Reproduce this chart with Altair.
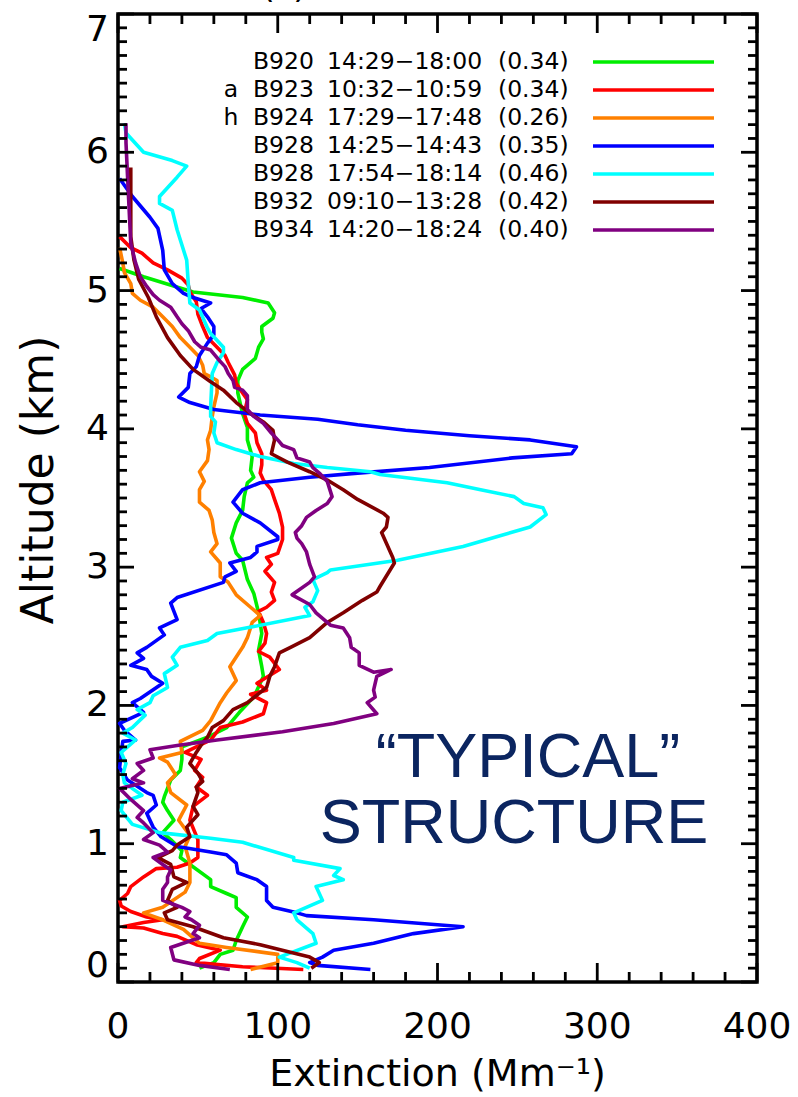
import altair as alt
import pandas as pd

# Vertical extinction profiles: (altitude km, extinction Mm^-1), top to bottom
B920 = [(5.16, 1), (5.10, 16), (4.99, 47), (4.95, 78), (4.91, 94), (4.84, 98), (4.80, 97), (4.74, 90),
        (4.70, 90), (4.65, 91), (4.59, 88), (4.51, 86), (4.43, 78), (4.35, 75), (4.26, 75), (4.11, 78),
        (4.01, 81), (3.92, 81), (3.80, 84), (3.70, 83), (3.65, 85), (3.61, 81), (3.51, 79), (3.41, 78),
        (3.32, 74), (3.21, 71), (3.10, 74), (3.05, 78), (2.91, 81), (2.81, 85), (2.67, 88), (2.52, 90),
        (2.40, 88), (2.28, 90), (2.21, 91), (2.16, 89), (2.06, 85), (1.95, 76), (1.84, 68), (1.77, 56),
        (1.70, 40), (1.61, 40), (1.53, 39), (1.46, 33), (1.40, 31), (1.34, 29), (1.30, 28), (1.24, 31),
        (1.17, 35), (1.08, 28), (1.03, 33), (0.95, 40), (0.90, 39), (0.85, 45), (0.74, 58), (0.69, 58),
        (0.64, 68), (0.61, 74), (0.54, 74), (0.47, 81), (0.40, 78), (0.30, 74), (0.23, 72), (0.20, 64),
        (0.14, 60), (0.10, 51)]

B923 = [(5.39, 1), (5.31, 8), (5.27, 15), (5.20, 22), (5.15, 31), (5.09, 40), (5.04, 44), (4.99, 45),
        (4.92, 49), (4.83, 50), (4.74, 53), (4.66, 56), (4.59, 62), (4.53, 67), (4.48, 69), (4.39, 73),
        (4.33, 74), (4.26, 78), (4.21, 81), (4.11, 79), (4.04, 81), (3.97, 86), (3.90, 87), (3.82, 90),
        (3.74, 90), (3.68, 89), (3.63, 91), (3.56, 96), (3.49, 98), (3.39, 101), (3.29, 103), (3.20, 103),
        (3.10, 100), (3.07, 93), (3.02, 96), (2.97, 92), (2.89, 98), (2.82, 96), (2.76, 98), (2.71, 93),
        (2.68, 88), (2.60, 91), (2.52, 93), (2.45, 92), (2.39, 88), (2.35, 95), (2.26, 101), (2.16, 87),
        (2.11, 93), (2.08, 83), (2.02, 93), (1.94, 91), (1.88, 78), (1.84, 64), (1.75, 58), (1.70, 49),
        (1.66, 42), (1.61, 52), (1.53, 48), (1.48, 53), (1.41, 49), (1.35, 56), (1.27, 47), (1.17, 45),
        (1.03, 50), (0.90, 50), (0.86, 45), (0.83, 37), (0.82, 24), (0.76, 16), (0.69, 8), (0.64, 6),
        (0.59, 1), (0.55, 2), (0.51, 8), (0.47, 18), (0.45, 28), (0.43, 16), (0.40, 3), (0.39, 16),
        (0.35, 28), (0.33, 37), (0.27, 49), (0.23, 64), (0.17, 51), (0.14, 49), (0.11, 78), (0.09, 116)]

B924 = [(5.31, 1), (5.20, 3), (5.13, 4), (5.05, 8), (4.98, 9), (4.93, 14), (4.88, 22), (4.81, 28),
        (4.74, 34), (4.66, 39), (4.59, 45), (4.53, 50), (4.46, 53), (4.40, 54), (4.37, 59), (4.35, 62),
        (4.26, 62), (4.16, 60), (4.09, 59), (3.99, 58), (3.92, 56), (3.85, 57), (3.77, 56), (3.69, 51),
        (3.62, 54), (3.56, 51), (3.47, 51), (3.41, 57), (3.34, 59), (3.25, 60), (3.17, 62), (3.11, 58),
        (3.03, 64), (2.93, 64), (2.89, 69), (2.80, 74), (2.71, 83), (2.65, 89), (2.60, 84), (2.49, 81),
        (2.42, 78), (2.35, 74), (2.28, 70), (2.18, 74), (2.09, 68), (2.02, 64), (1.89, 58), (1.82, 53),
        (1.74, 39), (1.66, 40), (1.62, 26), (1.59, 31), (1.50, 36), (1.44, 31), (1.37, 33), (1.28, 43),
        (1.17, 38), (1.06, 45), (0.98, 42), (0.86, 45), (0.72, 45), (0.65, 42), (0.54, 28), (0.50, 16),
        (0.45, 28), (0.38, 41), (0.28, 51), (0.25, 68), (0.20, 100), (0.14, 100), (0.09, 83)]

B928_EARLY = [(5.81, 1), (5.68, 9), (5.53, 20), (5.45, 25), (5.29, 28), (5.15, 29), (5.05, 34), (4.98, 41),
              (4.95, 47), (4.91, 58), (4.87, 52), (4.81, 56), (4.74, 60), (4.68, 60), (4.62, 56), (4.53, 51),
              (4.45, 49), (4.40, 45), (4.30, 44), (4.23, 38), (4.19, 45), (4.14, 60), (4.10, 89), (4.07, 125),
              (4.03, 150), (3.99, 180), (3.95, 220), (3.92, 258), (3.87, 287), (3.82, 284), (3.79, 247),
              (3.72, 195), (3.68, 150), (3.65, 120), (3.61, 89), (3.56, 78), (3.47, 72), (3.39, 78),
              (3.32, 89), (3.22, 100), (3.20, 100), (3.15, 87), (3.11, 87), (3.07, 83), (3.03, 70),
              (2.97, 74), (2.93, 67), (2.89, 66), (2.78, 37), (2.74, 33), (2.62, 37), (2.56, 26), (2.51, 29),
              (2.42, 18), (2.38, 12), (2.34, 16), (2.29, 8), (2.26, 18), (2.21, 21), (2.16, 28), (2.05, 14),
              (2.02, 9), (1.95, 16), (1.87, 1), (1.82, 4), (1.75, 11), (1.74, 3), (1.65, 2), (1.55, 1),
              (1.46, 6), (1.37, 18), (1.35, 22), (1.28, 24), (1.22, 18), (1.12, 22), (1.05, 27), (0.98, 37),
              (0.94, 58), (0.92, 68), (0.86, 74), (0.79, 75), (0.74, 87), (0.69, 93), (0.63, 93), (0.59, 93),
              (0.54, 97), (0.50, 112), (0.48, 118), (0.45, 160), (0.40, 216), (0.35, 185), (0.28, 160),
              (0.23, 135), (0.18, 128), (0.14, 120), (0.12, 125), (0.09, 158)]

B928_LATE = [(6.21, 4), (6.14, 5), (6.00, 16), (5.94, 34), (5.90, 43), (5.82, 37), (5.68, 26), (5.63, 26),
             (5.58, 34), (5.44, 37), (5.22, 43), (5.05, 44), (4.91, 45), (4.86, 51), (4.73, 56), (4.69, 58),
             (4.59, 66), (4.55, 66), (4.48, 62), (4.40, 59), (4.16, 58), (4.09, 58), (4.05, 61), (3.97, 60),
             (3.90, 62), (3.85, 74), (3.80, 89), (3.75, 110), (3.72, 131), (3.69, 158), (3.67, 164),
             (3.61, 206), (3.56, 227), (3.51, 248), (3.46, 254), (3.43, 266), (3.38, 268), (3.29, 258),
             (3.22, 237), (3.15, 216), (3.05, 175), (2.98, 133), (2.96, 131), (2.91, 122), (2.83, 125),
             (2.75, 122), (2.71, 117), (2.65, 120), (2.57, 85), (2.52, 62), (2.47, 56), (2.42, 39),
             (2.35, 34), (2.29, 37), (2.23, 29), (2.13, 31), (2.07, 22), (2.02, 20), (1.97, 12), (1.93, 17),
             (1.84, 9), (1.80, 3), (1.75, 11), (1.66, 2), (1.58, 5), (1.50, 3), (1.44, 4), (1.35, 15),
             (1.30, 3), (1.24, 2), (1.14, 9), (1.08, 26), (1.04, 58), (1.01, 78), (0.90, 110), (0.88, 110),
             (0.82, 139), (0.77, 135), (0.74, 141), (0.69, 124), (0.59, 128), (0.50, 110), (0.45, 112),
             (0.35, 122), (0.28, 124), (0.18, 101), (0.14, 112), (0.10, 120)]

B932 = [(5.89, 8), (5.70, 8), (5.39, 8), (5.22, 10), (5.08, 13), (4.95, 19), (4.81, 24), (4.66, 31),
        (4.53, 39), (4.43, 47), (4.34, 58), (4.28, 66), (4.19, 74), (4.11, 83), (4.05, 91), (3.99, 97),
        (3.92, 98), (3.82, 96), (3.76, 106), (3.69, 120), (3.63, 131), (3.56, 141), (3.49, 150),
        (3.39, 166), (3.36, 169), (3.29, 168), (3.25, 165), (3.07, 172), (3.03, 173), (2.86, 164),
        (2.82, 162), (2.76, 153), (2.67, 141), (2.60, 131), (2.49, 120), (2.42, 108), (2.38, 101),
        (2.28, 98), (2.21, 95), (2.13, 93), (2.02, 81), (1.97, 72), (1.89, 66), (1.84, 59), (1.77, 56),
        (1.73, 53), (1.66, 49), (1.58, 45), (1.51, 50), (1.45, 53), (1.41, 49), (1.37, 50), (1.27, 47),
        (1.21, 50), (1.12, 43), (1.05, 45), (0.99, 37), (0.95, 34), (0.90, 25), (0.85, 33), (0.76, 35),
        (0.72, 43), (0.67, 34), (0.59, 31), (0.54, 37), (0.50, 29), (0.45, 31), (0.40, 47), (0.32, 66),
        (0.27, 89), (0.22, 106), (0.18, 120), (0.14, 126), (0.10, 121)]

B934 = [(6.21, 5), (6.07, 5), (5.82, 6), (5.58, 7), (5.34, 8), (5.20, 11), (5.10, 14), (5.03, 18),
        (4.97, 22), (4.93, 26), (4.88, 33), (4.81, 37), (4.76, 40), (4.71, 44), (4.63, 48), (4.59, 52),
        (4.57, 58), (4.50, 63), (4.45, 67), (4.40, 69), (4.35, 72), (4.30, 73), (4.28, 78), (4.24, 81),
        (4.19, 81), (4.14, 81), (4.09, 85), (4.04, 91), (3.97, 96), (3.92, 100), (3.88, 103), (3.85, 110),
        (3.79, 112), (3.76, 120), (3.72, 122), (3.68, 126), (3.62, 131), (3.51, 134), (3.46, 131),
        (3.41, 124), (3.36, 118), (3.30, 115), (3.25, 111), (3.21, 112), (3.17, 115), (3.11, 118),
        (3.02, 120), (2.93, 123), (2.89, 120), (2.80, 109), (2.73, 120), (2.67, 124), (2.58, 133),
        (2.56, 141), (2.49, 145), (2.42, 146), (2.38, 151), (2.29, 151), (2.24, 160), (2.26, 171),
        (2.21, 162), (2.11, 160), (2.06, 161), (2.02, 156), (1.94, 162), (1.87, 135), (1.81, 103),
        (1.75, 62), (1.71, 37), (1.68, 20), (1.62, 22), (1.58, 12), (1.53, 16), (1.47, 9), (1.44, 16),
        (1.40, 1), (1.32, 8), (1.24, 16), (1.19, 12), (1.15, 16), (1.08, 22), (1.03, 16), (0.99, 26),
        (0.94, 31), (0.90, 22), (0.85, 28), (0.81, 33), (0.76, 31), (0.72, 31), (0.67, 28), (0.59, 28),
        (0.56, 35), (0.54, 40), (0.51, 45), (0.47, 42), (0.45, 46), (0.41, 51), (0.35, 47), (0.32, 51),
        (0.25, 33), (0.16, 35), (0.12, 51), (0.09, 70)]

PROFILES = [B920, B923, B924, B928_EARLY, B928_LATE, B932, B934]
FLIGHTS = ["B920", "B923", "B924", "B928", "B928", "B932", "B934"]
TIMES = ["14:29\u221218:00", "10:32\u221210:59", "17:29\u221217:48", "14:25\u221214:43",
         "17:54\u221218:14", "09:10\u221213:28", "14:20\u221218:24"]
AOD = ["(0.34)", "(0.34)", "(0.26)", "(0.35)", "(0.46)", "(0.42)", "(0.40)"]
FLAGS = ["", "a", "h", "", "", "", ""]
COLORS = ["#00ee00", "#ff0000", "#ff8000", "#0000ff", "#00ffff", "#800000", "#800080"]

X_MAJOR = [0, 100, 200, 300, 400]
Y_MAJOR = [0, 1, 2, 3, 4, 5, 6, 7]
X_TITLE = "Extinction (Mm\u207b\u00b9)"
Y_TITLE = "Altitude (km)"

W, H = 639, 968
FONT = "DejaVu Sans"
LINE_W = 3.6

keys = [f"s{k}" for k in range(len(PROFILES))]
rows = []
for key, prof in zip(keys, PROFILES):
    for i, (a, e) in enumerate(prof):
        rows.append({"key": key, "idx": i, "alt": a, "ext": e})
profiles = pd.DataFrame(rows)

x_scale = alt.Scale(domain=[0, 400], nice=False, zero=False)
y_scale = alt.Scale(domain=[0, 7], nice=False, zero=False)

lines = alt.Chart(profiles).mark_line(strokeWidth=LINE_W, strokeJoin="round").encode(
    x=alt.X("ext:Q", scale=x_scale, axis=None),
    y=alt.Y("alt:Q", scale=y_scale, axis=None),
    color=alt.Color("key:N", scale=alt.Scale(domain=keys, range=COLORS), legend=None),
    order=alt.Order("idx:Q"),
)

# inward tick marks on all four sides
x_minor = [v for v in range(0, 401, 20) if v not in X_MAJOR]
y_minor = [round(v / 10, 1) for v in range(0, 71) if v % 10 != 0]
xt = pd.DataFrame({"ext": X_MAJOR + x_minor,
                   "len": [19] * len(X_MAJOR) + [10] * len(x_minor)})
yt = pd.DataFrame({"alt": Y_MAJOR + y_minor,
                   "len": [16] * len(Y_MAJOR) + [9] * len(y_minor)})

tick_style = dict(color="black", strokeWidth=2.8)
x_bottom = alt.Chart(xt).mark_rule(**tick_style).transform_calculate(
    y0=f"{H}", y1=f"{H} - datum.len").encode(
    x=alt.X("ext:Q", scale=x_scale, axis=None),
    y=alt.Y("y0:Q", scale=None), y2="y1:Q")
x_top = alt.Chart(xt).mark_rule(**tick_style).transform_calculate(
    y0="0", y1="datum.len").encode(
    x=alt.X("ext:Q", scale=x_scale, axis=None),
    y=alt.Y("y0:Q", scale=None), y2="y1:Q")
y_left = alt.Chart(yt).mark_rule(**tick_style).transform_calculate(
    x0="0", x1="datum.len").encode(
    y=alt.Y("alt:Q", scale=y_scale, axis=None),
    x=alt.X("x0:Q", scale=None), x2="x1:Q")
y_right = alt.Chart(yt).mark_rule(**tick_style).transform_calculate(
    x0=f"{W}", x1=f"{W} - datum.len").encode(
    y=alt.Y("alt:Q", scale=y_scale, axis=None),
    x=alt.X("x0:Q", scale=None), x2="x1:Q")

# tick labels and axis titles
label_style = dict(font=FONT, fontSize=36, color="black")
x_lab_df = pd.DataFrame({"ext": X_MAJOR, "txt": [str(v) for v in X_MAJOR]})
x_labels = alt.Chart(x_lab_df).mark_text(align="center", baseline="middle", **label_style).encode(
    x=alt.X("ext:Q", scale=x_scale, axis=None), y=alt.value(H + 45), text="txt:N")

y_lab_df = pd.DataFrame({"alt": Y_MAJOR, "txt": [str(v) for v in Y_MAJOR]})
y_lab_base = alt.Chart(y_lab_df)
y_labels_mid = y_lab_base.transform_filter("datum.alt > 0 && datum.alt < 7").mark_text(
    align="right", baseline="middle", **label_style).encode(
    y=alt.Y("alt:Q", scale=y_scale, axis=None), x=alt.value(-9), text="txt:N")
y_labels_low = y_lab_base.transform_filter("datum.alt == 0").mark_text(
    align="right", baseline="bottom", dy=3, **label_style).encode(
    y=alt.Y("alt:Q", scale=y_scale, axis=None), x=alt.value(-9), text="txt:N")
y_labels_high = y_lab_base.transform_filter("datum.alt == 7").mark_text(
    align="right", baseline="top", dy=-1, **label_style).encode(
    y=alt.Y("alt:Q", scale=y_scale, axis=None), x=alt.value(-9), text="txt:N")

x_title = alt.Chart(pd.DataFrame({"txt": [X_TITLE]})).mark_text(
    font=FONT, fontSize=38, color="black", align="center", baseline="middle").encode(
    x=alt.value(W / 2), y=alt.value(H + 93), text="txt:N")
y_title = alt.Chart(pd.DataFrame({"txt": [Y_TITLE]})).mark_text(
    font=FONT, fontSize=44, color="black", align="center", baseline="middle", angle=270).encode(
    x=alt.value(-78), y=alt.value(466), text="txt:N")

# key in the upper right: flag, flight, time window, AOD and a line sample
legend_df = pd.DataFrame({"row": list(range(len(FLIGHTS))), "flag": FLAGS, "flight": FLIGHTS,
                          "times": TIMES, "aod": AOD, "color": COLORS})
leg_base = alt.Chart(legend_df).transform_calculate(ypos="48 + 28 * datum.row")
leg_text = dict(font=FONT, fontSize=23.5, color="black", baseline="middle")
leg_flag = leg_base.mark_text(align="center", **leg_text).encode(
    x=alt.value(113), y=alt.Y("ypos:Q", scale=None), text="flag:N")
leg_flight = leg_base.mark_text(align="left", **leg_text).encode(
    x=alt.value(135), y=alt.Y("ypos:Q", scale=None), text="flight:N")
leg_times = leg_base.mark_text(align="left", **leg_text).encode(
    x=alt.value(209), y=alt.Y("ypos:Q", scale=None), text="times:N")
leg_aod = leg_base.mark_text(align="left", **leg_text).encode(
    x=alt.value(380), y=alt.Y("ypos:Q", scale=None), text="aod:N")
leg_line = leg_base.mark_rule(strokeWidth=LINE_W).encode(
    x=alt.value(475), x2=alt.value(596), y=alt.Y("ypos:Q", scale=None),
    color=alt.Color("color:N", scale=None))

note_df = pd.DataFrame({"txt": ["\u201cTYPICAL\u201d", "STRUCTURE"], "line": [0, 1]})
note = alt.Chart(note_df).transform_calculate(
    xpos="datum.line == 0 ? 410 : 396", ypos="763 + 66 * datum.line").mark_text(
    font="Liberation Sans", fontSize=63, color="#0b2560", align="center", baseline="alphabetic").encode(
    x=alt.X("xpos:Q", scale=None), y=alt.Y("ypos:Q", scale=None), text="txt:N")

panel = alt.Chart(pd.DataFrame({"t": ["(c)"]})).mark_text(
    font=FONT, fontSize=34, color="black", align="center", baseline="alphabetic").encode(
    x=alt.value(166), y=alt.value(-16), text="t:N")

chart = alt.layer(
    lines, x_bottom, x_top, y_left, y_right,
    x_labels, y_labels_mid, y_labels_low, y_labels_high, x_title, y_title,
    leg_flag, leg_flight, leg_times, leg_aod, leg_line, note, panel,
).properties(
    width=W, height=H,
    autosize=alt.AutoSizeParams(type="none"),
    padding={"left": 118, "top": 14, "right": 41, "bottom": 115},
    background="white",
).configure_view(stroke="black", strokeWidth=3.5)

chart.save("out.html", embed_options={"renderer": "svg", "actions": False})
